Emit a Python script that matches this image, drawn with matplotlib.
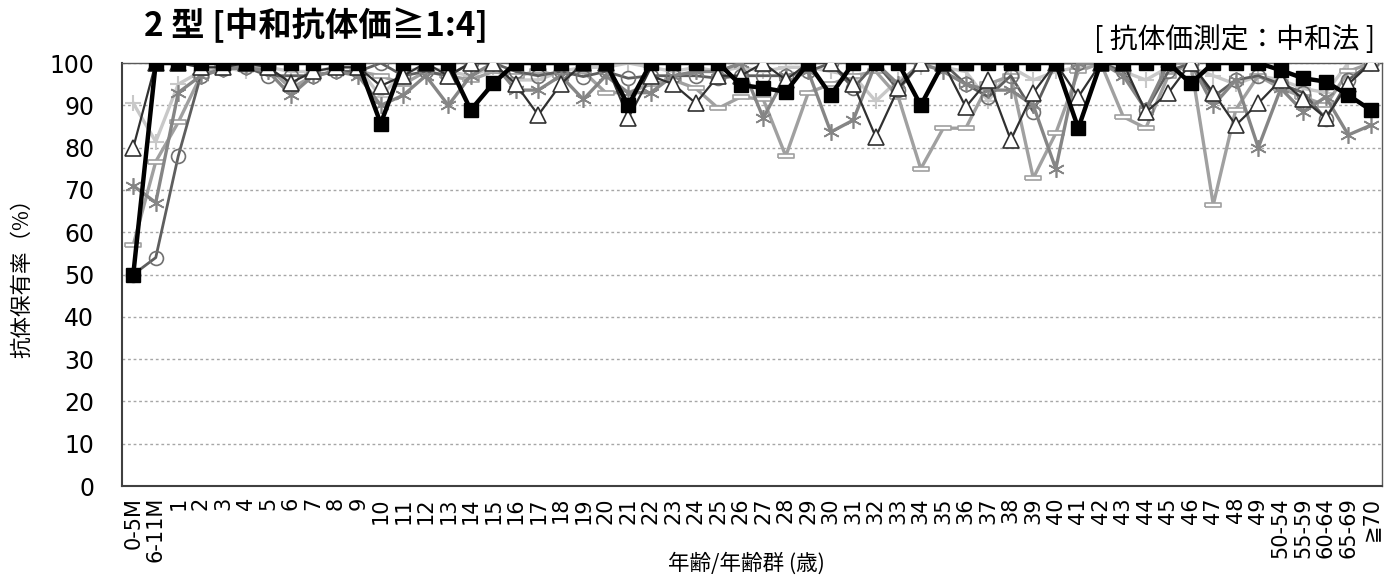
import numpy as np
import matplotlib
matplotlib.use("Agg")
import matplotlib.pyplot as plt

plt.rcParams['font.family'] = ['DejaVu Sans', 'Noto Sans CJK JP']
cjk = ['Noto Sans CJK JP', 'DejaVu Sans']

labels = ['0-5M', '6-11M'] + [str(i) for i in range(1, 50)] + ['50-54', '55-59', '60-64', '65-69', '≧70']

# plus markers (lightest)
s_plus = [90.5, 81.4, 95, 98, 99, 98, 99, 98, 98, 99, 99, 92, 98, 99, 98, 97, 99, 96, 96, 98,
          99, 99, 100, 99, 98, 99, 98, 99, 98, 99, 99, 98, 97, 91, 96, 99, 99, 98, 91, 99,
          96, 98, 99, 100, 98, 96, 99, 99, 97, 95, 97, 96, 94, 93, 100, 100]
# dash markers
s_dash = [57, 76.7, 86, 97, 99, 99, 99, 94, 97, 98, 98, 97, 95, 98, 97, 96, 98, 97, 98, 97,
          98, 93, 93, 95, 96, 94, 89.3, 92, 91.4, 78, 93, 95, 97, 98, 92, 75, 84.6, 84.6, 95, 97,
          72.8, 83.4, 98, 100, 87.3, 84.6, 97, 100, 66.5, 89, 97, 94, 92, 90, 98, 100]
# circles
s_circ = [50, 54, 78, 97, 98.5, 99, 97, 97, 97, 98, 98, 100, 97, 98, 97, 100, 100, 98, 97, 98,
          96.8, 98, 96.4, 97, 97, 97, 96.4, 97, 97, 97, 98, 100, 94, 100, 93.7, 100, 100, 95, 92, 97,
          88.5, 100, 100, 100, 98, 88.8, 98, 100, 92, 96, 97, 95, 93, 86.8, 96, 100]
# asterisks
s_ast = [71, 67, 93, 97, 98.5, 99, 98, 92.4, 97, 98, 97, 90, 92.4, 97, 90, 97, 100, 93.6, 93.6, 97,
         91.4, 97, 93, 93, 97, 98, 98, 100, 87, 97, 98, 83.7, 86.5, 100, 95, 100, 98, 95, 93.6, 93.6,
         90, 75, 100, 100, 97, 89, 100, 100, 90, 96, 80, 94, 88.5, 92, 83, 85.3]
# triangles
s_tri = [80, 100, 100, 99, 99, 100, 99, 95.3, 98, 99, 99, 94.6, 97, 100, 97, 100, 100, 95, 87.7, 95,
         100, 100, 87, 97, 95, 90.5, 97, 97, 100, 96, 100, 100, 95, 82.5, 94, 100, 100, 89.6, 96, 81.8,
         93, 100, 92, 100, 100, 88.4, 92.9, 100, 93, 85.3, 90.5, 96, 91.4, 87, 95, 100]
# filled squares (latest)
s_sq = [50, 100, 100, 100, 100, 100, 100, 100, 100, 100, 100, 85.7, 100, 100, 100, 88.9, 95.2, 100, 100, 100,
        100, 100, 90, 100, 100, 100, 100, 94.8, 94.1, 93.2, 100, 92.4, 100, 100, 100, 90, 100, 100, 100, 100,
        100, 100, 84.6, 100, 100, 100, 100, 95.2, 100, 100, 100, 98.3, 96.4, 95.6, 92.4, 88.9]

x = np.arange(len(labels))
dash_marker = [(-1, -0.28), (1, -0.28), (1, 0.28), (-1, 0.28), (-1, -0.28)]

fig = plt.figure(figsize=(13.96, 5.81), dpi=100)
ax = fig.add_axes([0.0874, 0.1635, 0.9026, 0.728])

ax.plot(x, s_plus, color='#c8c8c8', lw=2.4, marker='+', ms=12, mew=1.5, zorder=2)
ax.plot(x, s_dash, color='#a0a0a0', lw=2.4, marker=dash_marker, ms=11, mfc='white', mec='#a0a0a0', mew=1.2, zorder=3)
ax.plot(x, s_circ, color='#5e5e5e', lw=2.0, marker='o', ms=10, mfc='none', mec='#707070', mew=1.2, zorder=4)
ax.plot(x, s_ast, color='#858585', lw=2.4, marker=(6, 2, 0), ms=12, mec='#858585', mew=1.2, zorder=5)
ax.plot(x, s_tri, color='#303030', lw=1.6, marker='^', ms=11, mfc='white', mec='#303030', mew=1.2, zorder=6)
ax.plot(x, s_sq, color='black', lw=3.2, marker='s', ms=10.5, zorder=7)

ax.set_xlim(-0.5, len(labels) - 0.5)
ax.set_ylim(0, 100)
ax.set_yticks(np.arange(0, 101, 10))
ax.yaxis.grid(True, linestyle=(0, (2, 2)), color='#a6a6a6', lw=1)
ax.set_axisbelow(True)
ax.set_xticks(x)
ax.set_xticklabels(labels, rotation=90, fontsize=15)
ax.tick_params(axis='y', length=0, pad=20, labelsize=17)
ax.tick_params(axis='x', length=0, pad=8)
for s in ['left', 'bottom']:
    ax.spines[s].set_color('#404040')
    ax.spines[s].set_linewidth(1.5)
for s in ['right', 'top']:
    ax.spines[s].set_color('#595959')
    ax.spines[s].set_linewidth(1)

fig.text(0.016, 0.53, '抗体保有率（%）', family=cjk, fontsize=15.5, rotation=90, ha='center', va='center')
fig.text(0.535, 0.01, '年齢/年齢群 (歳)', family=cjk, fontsize=15.5, ha='center', va='bottom')
fig.text(0.103, 0.925, '2 型 [中和抗体価≧1:4]', family=cjk, fontsize=24, fontweight='bold', va='bottom')
fig.text(0.985, 0.905, '[ 抗体価測定：中和法 ]', family=cjk, fontsize=20, ha='right', va='bottom')

fig.savefig('out.png', dpi=100)
